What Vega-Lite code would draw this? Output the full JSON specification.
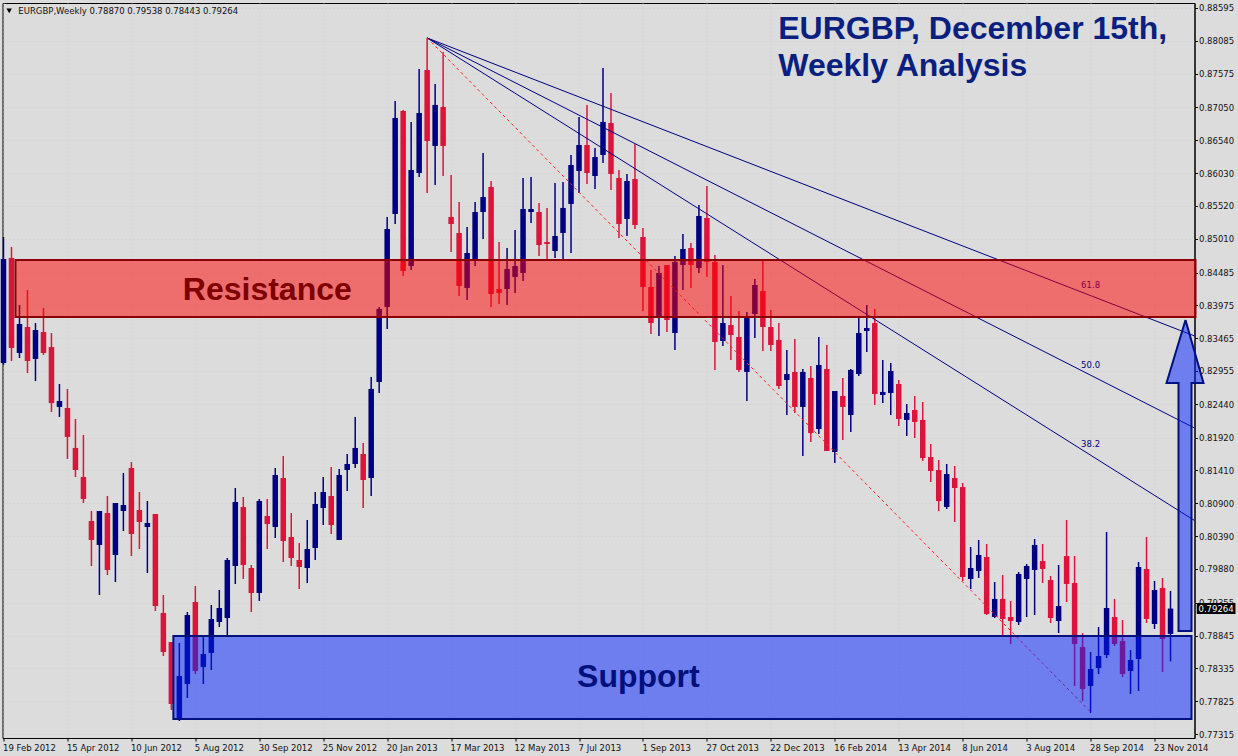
{"$schema":"https://vega.github.io/schema/vega-lite/v6.json","width":1192,"height":735,"autosize":{"type":"none"},"padding":{"left":2.5,"top":3,"right":43,"bottom":18},"background":"#dcdcdc","view":{"fill":"#dcdcdc","stroke":"#000000","strokeWidth":1},"config":{"font":"DejaVu Sans"},
"datasets":{"candles":[
{"date":"2012-02-19","open":0.83079,"high":0.85037,"low":0.8305,"close":0.84696},
{"date":"2012-02-26","open":0.84711,"high":0.84882,"low":0.8311,"close":0.83312},
{"date":"2012-03-04","open":0.83234,"high":0.83981,"low":0.83157,"close":0.83685},
{"date":"2012-03-11","open":0.83638,"high":0.84214,"low":0.82924,"close":0.8311},
{"date":"2012-03-18","open":0.83142,"high":0.837,"low":0.82799,"close":0.83592},
{"date":"2012-03-25","open":0.83561,"high":0.83934,"low":0.83203,"close":0.83234},
{"date":"2012-04-01","open":0.83328,"high":0.83545,"low":0.82318,"close":0.82457},
{"date":"2012-04-08","open":0.82396,"high":0.82753,"low":0.82241,"close":0.82489},
{"date":"2012-04-15","open":0.8238,"high":0.82676,"low":0.81588,"close":0.81929},
{"date":"2012-04-22","open":0.81759,"high":0.82209,"low":0.81308,"close":0.81417},
{"date":"2012-04-29","open":0.81308,"high":0.81961,"low":0.80904,"close":0.80966},
{"date":"2012-05-06","open":0.80624,"high":0.8078,"low":0.79925,"close":0.80329},
{"date":"2012-05-13","open":0.80252,"high":0.8078,"low":0.79475,"close":0.8078},
{"date":"2012-05-20","open":0.80749,"high":0.81013,"low":0.79785,"close":0.79863},
{"date":"2012-05-27","open":0.80096,"high":0.80904,"low":0.79677,"close":0.80904},
{"date":"2012-06-03","open":0.8078,"high":0.8137,"low":0.80469,"close":0.80873},
{"date":"2012-06-10","open":0.81448,"high":0.81541,"low":0.8008,"close":0.80422},
{"date":"2012-06-17","open":0.80795,"high":0.81075,"low":0.80189,"close":0.80609},
{"date":"2012-06-24","open":0.80531,"high":0.80935,"low":0.79816,"close":0.80593},
{"date":"2012-07-01","open":0.80733,"high":0.80733,"low":0.79226,"close":0.79304},
{"date":"2012-07-08","open":0.79195,"high":0.79475,"low":0.78527,"close":0.78589},
{"date":"2012-07-15","open":0.78744,"high":0.78744,"low":0.77688,"close":0.77781},
{"date":"2012-07-22","open":0.77563,"high":0.78729,"low":0.77517,"close":0.78216},
{"date":"2012-07-29","open":0.78092,"high":0.79211,"low":0.77874,"close":0.79164},
{"date":"2012-08-05","open":0.79366,"high":0.79614,"low":0.78247,"close":0.78294},
{"date":"2012-08-12","open":0.78356,"high":0.78822,"low":0.78092,"close":0.78558},
{"date":"2012-08-19","open":0.78574,"high":0.7932,"low":0.78309,"close":0.79102},
{"date":"2012-08-26","open":0.79055,"high":0.79552,"low":0.78977,"close":0.79273},
{"date":"2012-09-02","open":0.79117,"high":0.80049,"low":0.78853,"close":0.80018},
{"date":"2012-09-09","open":0.79925,"high":0.81137,"low":0.79646,"close":0.8092},
{"date":"2012-09-16","open":0.80842,"high":0.80998,"low":0.79723,"close":0.79941},
{"date":"2012-09-23","open":0.79894,"high":0.79941,"low":0.79211,"close":0.79506},
{"date":"2012-09-30","open":0.79506,"high":0.80966,"low":0.79382,"close":0.80935},
{"date":"2012-10-07","open":0.80702,"high":0.80966,"low":0.80189,"close":0.80578},
{"date":"2012-10-14","open":0.80531,"high":0.81448,"low":0.8036,"close":0.81339},
{"date":"2012-10-21","open":0.81292,"high":0.81634,"low":0.79987,"close":0.80314},
{"date":"2012-10-28","open":0.80376,"high":0.80749,"low":0.79925,"close":0.80049},
{"date":"2012-11-04","open":0.80018,"high":0.80283,"low":0.79568,"close":0.7991},
{"date":"2012-11-11","open":0.79894,"high":0.8064,"low":0.79661,"close":0.80189},
{"date":"2012-11-18","open":0.80205,"high":0.81075,"low":0.80018,"close":0.80889},
{"date":"2012-11-25","open":0.80826,"high":0.81308,"low":0.80562,"close":0.81075},
{"date":"2012-12-02","open":0.81013,"high":0.81463,"low":0.80422,"close":0.80562},
{"date":"2012-12-09","open":0.80329,"high":0.81432,"low":0.80329,"close":0.81339},
{"date":"2012-12-16","open":0.81417,"high":0.81665,"low":0.8109,"close":0.8151},
{"date":"2012-12-23","open":0.8151,"high":0.82241,"low":0.81448,"close":0.81759},
{"date":"2012-12-30","open":0.81665,"high":0.81836,"low":0.80826,"close":0.81261},
{"date":"2013-01-06","open":0.81292,"high":0.82862,"low":0.81013,"close":0.82676},
{"date":"2013-01-13","open":0.82784,"high":0.8395,"low":0.82613,"close":0.83919},
{"date":"2013-01-20","open":0.8395,"high":0.85347,"low":0.83608,"close":0.85161},
{"date":"2013-01-27","open":0.85394,"high":0.8715,"low":0.85239,"close":0.86886},
{"date":"2013-02-03","open":0.86994,"high":0.8701,"low":0.84431,"close":0.84509},
{"date":"2013-02-10","open":0.84587,"high":0.86824,"low":0.84524,"close":0.86078},
{"date":"2013-02-17","open":0.86031,"high":0.87647,"low":0.85969,"close":0.86963},
{"date":"2013-02-24","open":0.87631,"high":0.88129,"low":0.8572,"close":0.86528},
{"date":"2013-03-03","open":0.86451,"high":0.87414,"low":0.85845,"close":0.87088},
{"date":"2013-03-10","open":0.87057,"high":0.87911,"low":0.85984,"close":0.86451},
{"date":"2013-03-17","open":0.85348,"high":0.86,"low":0.84804,"close":0.85239},
{"date":"2013-03-24","open":0.85099,"high":0.85581,"low":0.8412,"close":0.84276},
{"date":"2013-03-31","open":0.84245,"high":0.85192,"low":0.84058,"close":0.84788},
{"date":"2013-04-07","open":0.8468,"high":0.85581,"low":0.84587,"close":0.85425},
{"date":"2013-04-14","open":0.85425,"high":0.86342,"low":0.85006,"close":0.85658},
{"date":"2013-04-21","open":0.85814,"high":0.85907,"low":0.8395,"close":0.84151},
{"date":"2013-04-28","open":0.84229,"high":0.84959,"low":0.83996,"close":0.84167},
{"date":"2013-05-05","open":0.84229,"high":0.84866,"low":0.83981,"close":0.8454},
{"date":"2013-05-12","open":0.84416,"high":0.85146,"low":0.84167,"close":0.84587},
{"date":"2013-05-19","open":0.84478,"high":0.85953,"low":0.84353,"close":0.85472},
{"date":"2013-05-26","open":0.85425,"high":0.85969,"low":0.85254,"close":0.85472},
{"date":"2013-06-02","open":0.85425,"high":0.85565,"low":0.84742,"close":0.84912},
{"date":"2013-06-09","open":0.84959,"high":0.85488,"low":0.8468,"close":0.84928},
{"date":"2013-06-16","open":0.84819,"high":0.85876,"low":0.84711,"close":0.85052},
{"date":"2013-06-23","open":0.85099,"high":0.85891,"low":0.84664,"close":0.85488},
{"date":"2013-06-30","open":0.8555,"high":0.86311,"low":0.84788,"close":0.86155},
{"date":"2013-07-07","open":0.86062,"high":0.86901,"low":0.8572,"close":0.86466},
{"date":"2013-07-14","open":0.86466,"high":0.87088,"low":0.8586,"close":0.86031},
{"date":"2013-07-21","open":0.85984,"high":0.86419,"low":0.85783,"close":0.8628},
{"date":"2013-07-28","open":0.86311,"high":0.87662,"low":0.86187,"close":0.86824},
{"date":"2013-08-04","open":0.86808,"high":0.87274,"low":0.85767,"close":0.86016},
{"date":"2013-08-11","open":0.85953,"high":0.86078,"low":0.85021,"close":0.85239},
{"date":"2013-08-18","open":0.85317,"high":0.86016,"low":0.85052,"close":0.85907},
{"date":"2013-08-25","open":0.85938,"high":0.86482,"low":0.85161,"close":0.85223},
{"date":"2013-09-01","open":0.85037,"high":0.85177,"low":0.83887,"close":0.8426},
{"date":"2013-09-08","open":0.8426,"high":0.84524,"low":0.8353,"close":0.837},
{"date":"2013-09-15","open":0.83794,"high":0.84587,"low":0.83499,"close":0.84478},
{"date":"2013-09-22","open":0.84602,"high":0.84602,"low":0.83561,"close":0.83747},
{"date":"2013-09-29","open":0.83545,"high":0.84742,"low":0.83281,"close":0.84649},
{"date":"2013-10-06","open":0.84602,"high":0.85083,"low":0.84214,"close":0.8485},
{"date":"2013-10-13","open":0.84866,"high":0.84944,"low":0.84245,"close":0.84602},
{"date":"2013-10-20","open":0.84555,"high":0.85534,"low":0.84478,"close":0.85363},
{"date":"2013-10-27","open":0.85332,"high":0.85829,"low":0.84416,"close":0.84649},
{"date":"2013-11-03","open":0.84649,"high":0.84757,"low":0.82971,"close":0.83406},
{"date":"2013-11-10","open":0.83421,"high":0.84602,"low":0.83343,"close":0.837},
{"date":"2013-11-17","open":0.83669,"high":0.8412,"low":0.83126,"close":0.83514},
{"date":"2013-11-24","open":0.83483,"high":0.83887,"low":0.8294,"close":0.82971},
{"date":"2013-12-01","open":0.8294,"high":0.83871,"low":0.82489,"close":0.83794},
{"date":"2013-12-08","open":0.8384,"high":0.84384,"low":0.83468,"close":0.84291},
{"date":"2013-12-15","open":0.84198,"high":0.84664,"low":0.83266,"close":0.83638},
{"date":"2013-12-22","open":0.83638,"high":0.83903,"low":0.83266,"close":0.83359},
{"date":"2013-12-29","open":0.83437,"high":0.837,"low":0.82676,"close":0.82722},
{"date":"2014-01-05","open":0.82815,"high":0.83281,"low":0.82271,"close":0.82908},
{"date":"2014-01-12","open":0.8294,"high":0.83452,"low":0.82302,"close":0.82396},
{"date":"2014-01-19","open":0.82396,"high":0.82986,"low":0.81634,"close":0.8294},
{"date":"2014-01-26","open":0.82846,"high":0.83033,"low":0.81852,"close":0.81991},
{"date":"2014-02-02","open":0.82054,"high":0.83483,"low":0.81976,"close":0.83048},
{"date":"2014-02-09","open":0.82986,"high":0.83359,"low":0.81712,"close":0.81712},
{"date":"2014-02-16","open":0.81696,"high":0.82644,"low":0.81525,"close":0.82644},
{"date":"2014-02-23","open":0.82566,"high":0.82846,"low":0.81883,"close":0.82396},
{"date":"2014-03-02","open":0.82271,"high":0.82986,"low":0.82007,"close":0.82971},
{"date":"2014-03-09","open":0.82908,"high":0.83794,"low":0.82877,"close":0.83545},
{"date":"2014-03-16","open":0.83576,"high":0.83981,"low":0.8325,"close":0.83623},
{"date":"2014-03-23","open":0.837,"high":0.83919,"low":0.82426,"close":0.82597},
{"date":"2014-03-30","open":0.82582,"high":0.83126,"low":0.82457,"close":0.82629},
{"date":"2014-04-06","open":0.82613,"high":0.83079,"low":0.82271,"close":0.82955},
{"date":"2014-04-13","open":0.82753,"high":0.82815,"low":0.821,"close":0.82209},
{"date":"2014-04-20","open":0.82194,"high":0.82442,"low":0.81945,"close":0.82302},
{"date":"2014-04-27","open":0.82349,"high":0.82566,"low":0.81914,"close":0.82163},
{"date":"2014-05-04","open":0.82194,"high":0.82473,"low":0.81557,"close":0.81603},
{"date":"2014-05-11","open":0.81619,"high":0.81821,"low":0.8123,"close":0.81401},
{"date":"2014-05-18","open":0.81417,"high":0.81572,"low":0.8078,"close":0.80935},
{"date":"2014-05-25","open":0.80842,"high":0.8151,"low":0.80811,"close":0.81354},
{"date":"2014-06-01","open":0.81292,"high":0.81479,"low":0.80609,"close":0.81137},
{"date":"2014-06-08","open":0.81152,"high":0.81215,"low":0.79692,"close":0.79754},
{"date":"2014-06-15","open":0.79723,"high":0.8022,"low":0.79568,"close":0.79894},
{"date":"2014-06-22","open":0.79847,"high":0.80329,"low":0.79739,"close":0.80096},
{"date":"2014-06-29","open":0.80065,"high":0.80267,"low":0.79164,"close":0.79179},
{"date":"2014-07-06","open":0.79133,"high":0.79677,"low":0.79117,"close":0.79413},
{"date":"2014-07-13","open":0.79413,"high":0.79785,"low":0.78853,"close":0.79102},
{"date":"2014-07-20","open":0.79133,"high":0.79382,"low":0.78713,"close":0.79071},
{"date":"2014-07-27","open":0.79055,"high":0.79832,"low":0.79009,"close":0.79801},
{"date":"2014-08-03","open":0.79723,"high":0.79956,"low":0.79133,"close":0.79925},
{"date":"2014-08-10","open":0.79863,"high":0.80345,"low":0.79164,"close":0.80252},
{"date":"2014-08-17","open":0.80003,"high":0.80267,"low":0.79661,"close":0.79879},
{"date":"2014-08-24","open":0.79708,"high":0.7977,"low":0.7904,"close":0.79117},
{"date":"2014-08-31","open":0.79071,"high":0.79941,"low":0.78884,"close":0.79304},
{"date":"2014-09-07","open":0.8008,"high":0.8064,"low":0.79366,"close":0.79646},
{"date":"2014-09-14","open":0.79661,"high":0.8008,"low":0.78061,"close":0.78713},
{"date":"2014-09-21","open":0.78666,"high":0.78884,"low":0.77827,"close":0.78014},
{"date":"2014-09-28","open":0.78061,"high":0.78589,"low":0.77641,"close":0.78325},
{"date":"2014-10-05","open":0.7834,"high":0.78977,"low":0.78247,"close":0.78527},
{"date":"2014-10-12","open":0.78542,"high":0.80454,"low":0.78496,"close":0.79273},
{"date":"2014-10-19","open":0.79133,"high":0.79413,"low":0.78682,"close":0.78713},
{"date":"2014-10-26","open":0.7876,"high":0.79086,"low":0.782,"close":0.78247},
{"date":"2014-11-02","open":0.78294,"high":0.7862,"low":0.77937,"close":0.78465},
{"date":"2014-11-09","open":0.7848,"high":0.79987,"low":0.77983,"close":0.7991},
{"date":"2014-11-16","open":0.79879,"high":0.80376,"low":0.7904,"close":0.79102},
{"date":"2014-11-23","open":0.79024,"high":0.79692,"low":0.78946,"close":0.79552},
{"date":"2014-11-30","open":0.79584,"high":0.79739,"low":0.78278,"close":0.78791},
{"date":"2014-12-07","open":0.7887,"high":0.79538,"low":0.78443,"close":0.79264}
]},
"layer":[
{"data":{"name":"candles"},"mark":{"type":"rule","strokeWidth":1.5},"encoding":{
"x":{"field":"date","type":"temporal","title":null,"scale":{"type":"utc","padding":0,"domain":[{"year":2012,"month":2,"date":18,"hours":3,"utc":true},{"year":2014,"month":12,"date":28,"utc":true}]},
"axis":{"tickCount":40,"values":[{"year":2012,"month":2,"date":19,"utc":true},{"year":2012,"month":4,"date":15,"utc":true},{"year":2012,"month":6,"date":10,"utc":true},{"year":2012,"month":8,"date":5,"utc":true},{"year":2012,"month":9,"date":30,"utc":true},{"year":2012,"month":11,"date":25,"utc":true},{"year":2013,"month":1,"date":20,"utc":true},{"year":2013,"month":3,"date":17,"utc":true},{"year":2013,"month":5,"date":12,"utc":true},{"year":2013,"month":7,"date":7,"utc":true},{"year":2013,"month":9,"date":1,"utc":true},{"year":2013,"month":10,"date":27,"utc":true},{"year":2013,"month":12,"date":22,"utc":true},{"year":2014,"month":2,"date":16,"utc":true},{"year":2014,"month":4,"date":13,"utc":true},{"year":2014,"month":6,"date":8,"utc":true},{"year":2014,"month":8,"date":3,"utc":true},{"year":2014,"month":9,"date":28,"utc":true},{"year":2014,"month":11,"date":23,"utc":true}],"format":"%-d %b %Y","labelAlign":"left","labelOffset":-1,"labelFontSize":8.5,"labelFont":"DejaVu Sans","labelColor":"#111111","labelPadding":2,"tickSize":3,"tickColor":"#000000","domainColor":"#000000","labelOverlap":false,"labelFlush":false,"labelBound":false,"grid":true,"gridColor":"#cfcfcf","gridDash":[1,3]}},
"y":{"field":"low","type":"quantitative","title":null,"scale":{"domain":[0.77253,0.88672],"nice":false,"zero":false},
"axis":{"orient":"right","tickCount":40,"values":[0.88595,0.88085,0.87575,0.8705,0.8654,0.8603,0.8552,0.8501,0.84485,0.83975,0.83465,0.82955,0.8244,0.8192,0.8141,0.809,0.8039,0.7988,0.79355,0.78845,0.78335,0.77825,0.77315],"format":".5f","labelFontSize":8.5,"labelFont":"DejaVu Sans","labelColor":"#111111","labelPadding":1,"tickSize":3,"tickColor":"#000000","domainColor":"#000000","labelOverlap":false,"labelBound":false,"grid":true,"gridColor":"#cfcfcf","gridDash":[1,3]}},
"y2":{"field":"high"},
"color":{"condition":{"test":"datum.close>=datum.open","value":"#000080"},"value":"#dc143c"}}},
{"data":{"name":"candles"},"mark":{"type":"bar","size":5.5},"encoding":{
"x":{"field":"date","type":"temporal","title":null},
"y":{"field":"open","type":"quantitative","title":null},
"y2":{"field":"close"},
"color":{"condition":{"test":"datum.close>=datum.open","value":"#000080"},"value":"#dc143c"}}},
{"data":{"values":[{"date":"2013-02-24T00:00:00Z","price":0.88129,"level":"61.8"},{"date":"2014-12-28T00:00:00Z","price":0.83499,"level":"61.8"},{"date":"2013-02-24T00:00:00Z","price":0.88129,"level":"50.0"},{"date":"2014-12-28T00:00:00Z","price":0.82069,"level":"50.0"},{"date":"2013-02-24T00:00:00Z","price":0.88129,"level":"38.2"},{"date":"2014-12-28T00:00:00Z","price":0.80632,"level":"38.2"}]},"mark":{"type":"line","color":"#000080","strokeWidth":1},"encoding":{"x":{"field":"date","type":"temporal","title":null},"y":{"field":"price","type":"quantitative","title":null},"detail":{"field":"level"}}},
{"data":{"values":[{"date":"2013-02-24T00:00:00Z","price":0.88129},{"date":"2014-09-28T00:00:00Z","price":0.77657}]},"mark":{"type":"line","color":"#ff2020","strokeWidth":1,"strokeDash":[3,3]},"encoding":{"x":{"field":"date","type":"temporal","title":null},"y":{"field":"price","type":"quantitative","title":null}}},
{"data":{"values":[{"date":"2014-09-28T00:00:00Z","price":0.84291,"label":"61.8"},{"date":"2014-09-28T00:00:00Z","price":0.83048,"label":"50.0"},{"date":"2014-09-28T00:00:00Z","price":0.8182,"label":"38.2"}]},"mark":{"type":"text","color":"#000080","fontSize":8.5,"font":"DejaVu Sans","align":"center","baseline":"middle"},"encoding":{"x":{"field":"date","type":"temporal","title":null},"y":{"field":"price","type":"quantitative","title":null},"text":{"field":"label"}}},
{"data":{"values":[{"start":"2012-02-29T12:00:00Z","end":"2014-12-28T21:00:00Z","top":0.84679,"bottom":0.83794}]},"mark":{"type":"rect","fill":"#ff0000","fillOpacity":0.5,"stroke":"#8b0000","strokeWidth":2},"encoding":{"x":{"field":"start","type":"temporal","title":null},"x2":{"field":"end"},"y":{"field":"top","type":"quantitative","title":null},"y2":{"field":"bottom"}}},
{"data":{"values":[{"start":"2012-07-16T18:00:00Z","end":"2014-12-25T09:00:00Z","top":0.78837,"bottom":0.77548}]},"mark":{"type":"rect","fill":"#0020ff","fillOpacity":0.5,"stroke":"#00107d","strokeWidth":2},"encoding":{"x":{"field":"start","type":"temporal","title":null},"x2":{"field":"end"},"y":{"field":"top","type":"quantitative","title":null},"y2":{"field":"bottom"}}},
{"data":{"values":[{"date":"2014-12-03T12:00:00Z","top":0.82769,"bottom":0.82769},{"date":"2014-12-20T03:00:00Z","top":0.83747,"bottom":0.82769},{"date":"2015-01-04T21:00:00Z","top":0.82769,"bottom":0.82769}]},"mark":{"type":"area","color":"#0020ff","opacity":0.5,"interpolate":"linear"},"encoding":{"x":{"field":"date","type":"temporal","title":null},"y":{"field":"top","type":"quantitative","title":null},"y2":{"field":"bottom"}}},
{"data":{"values":[{"start":"2014-12-14T00:00:00Z","end":"2014-12-25T09:00:00Z","top":0.82769,"bottom":0.78916}]},"mark":{"type":"rect","fill":"#0020ff","fillOpacity":0.5},"encoding":{"x":{"field":"start","type":"temporal","title":null},"x2":{"field":"end"},"y":{"field":"top","type":"quantitative","title":null},"y2":{"field":"bottom"}}},
{"data":{"values":[{"seq":1,"date":"2014-12-20T03:00:00Z","price":0.83747},{"seq":2,"date":"2015-01-04T21:00:00Z","price":0.82769},{"seq":3,"date":"2014-12-25T09:00:00Z","price":0.82769},{"seq":4,"date":"2014-12-25T09:00:00Z","price":0.78916},{"seq":5,"date":"2014-12-14T00:00:00Z","price":0.78916},{"seq":6,"date":"2014-12-14T00:00:00Z","price":0.82769},{"seq":7,"date":"2014-12-03T12:00:00Z","price":0.82769},{"seq":8,"date":"2014-12-20T03:00:00Z","price":0.83747}]},"mark":{"type":"line","color":"#00107d","strokeWidth":2},"encoding":{"x":{"field":"date","type":"temporal","title":null},"y":{"field":"price","type":"quantitative","title":null},"order":{"field":"seq","type":"quantitative"}}},
{"data":{"values":[{"date":"2012-10-07T00:00:00Z","price":0.84213,"label":"Resistance","c":"r"},{"date":"2013-08-28T00:00:00Z","price":0.782,"label":"Support","c":"s"}]},"mark":{"type":"text","font":"Liberation Sans","fontWeight":"bold","fontSize":32,"align":"center","baseline":"middle"},"encoding":{"x":{"field":"date","type":"temporal","title":null},"y":{"field":"price","type":"quantitative","title":null},"text":{"field":"label"},"color":{"field":"c","type":"nominal","legend":null,"scale":{"domain":["r","s"],"range":["#7f0000","#00107d"]}}}},
{"data":{"values":[{"date":"2013-12-28T12:00:00Z","price":0.88268,"label":"EURGBP, December 15th,"},{"date":"2013-12-28T12:00:00Z","price":0.87693,"label":"Weekly Analysis"}]},"mark":{"type":"text","font":"Liberation Sans","fontWeight":"bold","fontSize":32,"align":"left","baseline":"middle","color":"#0a1f80"},"encoding":{"x":{"field":"date","type":"temporal","title":null},"y":{"field":"price","type":"quantitative","title":null},"text":{"field":"label"}}},
{"data":{"values":[{"date":"2012-03-03T00:00:00Z","price":0.88549,"label":"EURGBP,Weekly  0.78870 0.79538 0.78443 0.79264"}]},"mark":{"type":"text","font":"DejaVu Sans","fontSize":8.5,"align":"left","baseline":"middle","color":"#111111"},"encoding":{"x":{"field":"date","type":"temporal","title":null},"y":{"field":"price","type":"quantitative","title":null},"text":{"field":"label"}}},
{"data":{"values":[{"date":"2012-02-24T00:00:00Z","price":0.88549}]},"mark":{"type":"point","shape":"triangle-down","filled":true,"color":"#000000","size":30,"opacity":1},"encoding":{"x":{"field":"date","type":"temporal","title":null},"y":{"field":"price","type":"quantitative","title":null}}},
{"data":{"values":[{"start":"2014-12-30T00:00:00Z","end":"2015-02-01T21:00:00Z","top":0.7935,"bottom":0.79179}]},"mark":{"type":"rect","fill":"#000000"},"encoding":{"x":{"field":"start","type":"temporal","title":null},"x2":{"field":"end"},"y":{"field":"top","type":"quantitative","title":null},"y2":{"field":"bottom"}}},
{"data":{"values":[{"date":"2014-12-31T12:00:00Z","price":0.79264,"label":"0.79264"}]},"mark":{"type":"text","font":"DejaVu Sans","fontSize":8.5,"align":"left","baseline":"middle","color":"#ffffff"},"encoding":{"x":{"field":"date","type":"temporal","title":null},"y":{"field":"price","type":"quantitative","title":null},"text":{"field":"label"}}}
]}
